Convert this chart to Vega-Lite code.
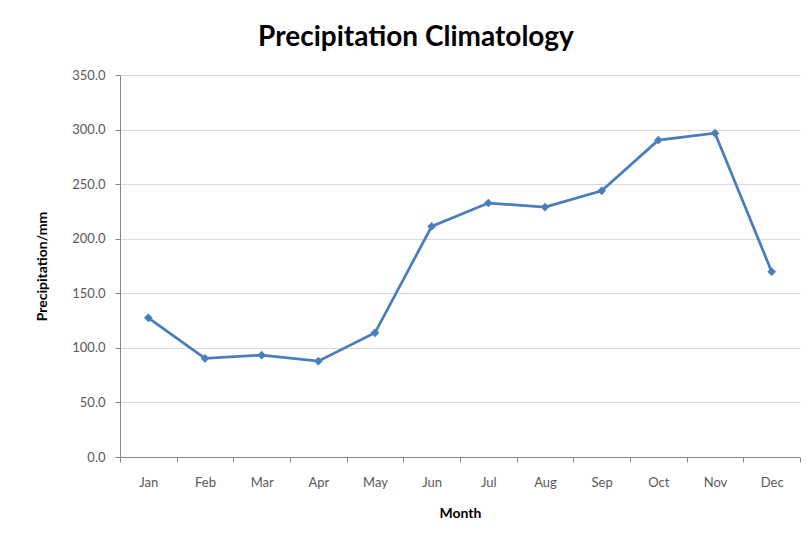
{
  "$schema": "https://vega.github.io/schema/vega-lite/v6.json",
  "autosize": "none",
  "width": 680,
  "height": 382,
  "padding": {"left": 120, "top": 75, "right": 10, "bottom": 79},
  "background": "white",
  "title": {
    "text": "Precipitation Climatology",
    "font": "Lato",
    "fontSize": 28,
    "fontWeight": "bold",
    "color": "#000000",
    "anchor": "middle",
    "dx": -44,
    "offset": 17
  },
  "data": {
    "values": [
      {"Month": "Jan", "Precip": 127.5},
      {"Month": "Feb", "Precip": 90.3},
      {"Month": "Mar", "Precip": 93.3},
      {"Month": "Apr", "Precip": 87.8},
      {"Month": "May", "Precip": 113.8},
      {"Month": "Jun", "Precip": 211.3},
      {"Month": "Jul", "Precip": 232.7},
      {"Month": "Aug", "Precip": 229.0},
      {"Month": "Sep", "Precip": 243.9},
      {"Month": "Oct", "Precip": 290.3},
      {"Month": "Nov", "Precip": 296.7},
      {"Month": "Dec", "Precip": 169.8}
    ]
  },
  "mark": {
    "type": "line",
    "color": "#4a7ebb",
    "strokeWidth": 2.75,
    "point": {"shape": "diamond", "size": 75, "filled": true, "color": "#4a7ebb"}
  },
  "encoding": {
    "x": {
      "field": "Month",
      "type": "nominal",
      "sort": null,
      "scale": {"paddingInner": 0, "paddingOuter": 0},
      "axis": {
        "title": "Month",
        "labelAngle": 0,
        "tickBand": "extent",
        "grid": false,
        "domainColor": "#868686",
        "tickColor": "#868686",
        "tickSize": 5,
        "labelPadding": 14,
        "labelFont": "Lato",
        "labelFontSize": 13,
        "labelColor": "#595959",
        "titleFont": "Lato",
        "titleFontSize": 14,
        "titleFontWeight": "bold",
        "titleColor": "#000000",
        "titlePadding": 17
      }
    },
    "y": {
      "field": "Precip",
      "type": "quantitative",
      "scale": {"domain": [0, 350], "nice": false},
      "axis": {
        "title": "Precipitation/mm",
        "values": [0, 50, 100, 150, 200, 250, 300, 350],
        "format": ".1f",
        "gridColor": "#d9d9d9",
        "domainColor": "#868686",
        "tickColor": "#868686",
        "tickSize": 5,
        "labelPadding": 10,
        "labelFont": "Lato",
        "labelFontSize": 13,
        "labelColor": "#595959",
        "titleFont": "Lato",
        "titleFontSize": 14,
        "titleFontWeight": "bold",
        "titleColor": "#000000",
        "titlePadding": 22
      }
    }
  },
  "config": {
    "view": {"stroke": null}
  }
}
